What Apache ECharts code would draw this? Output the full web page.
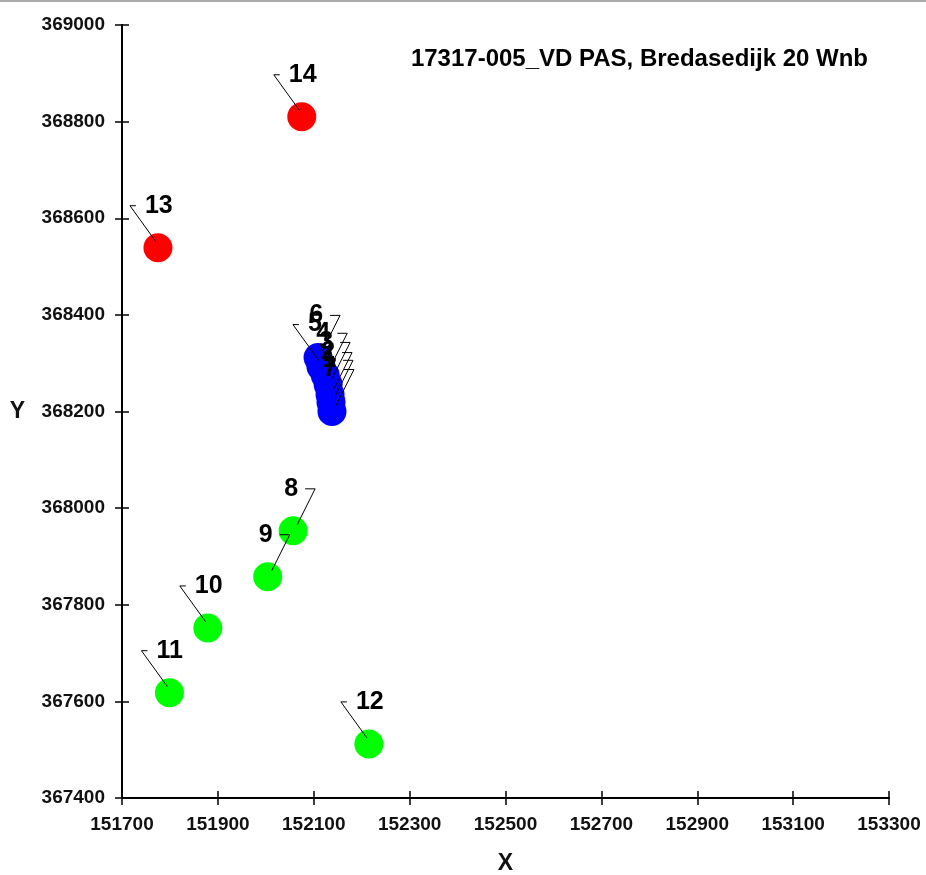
<!DOCTYPE html>
<html>
<head>
<meta charset="utf-8">
<script src="https://cdn.jsdelivr.net/npm/echarts@6/dist/echarts.min.js"></script>
<style>
  html, body { margin: 0; padding: 0; background: #fff; }
  #main { width: 926px; height: 875px; border-top: 2px solid #aaa; box-sizing: border-box; }
</style>
</head>
<body>
<div id="main"></div>
<script>
// punten (RD-coordinaten)
var names = ['1', '2', '3', '4', '5', '6', '7', '8', '9', '10', '11', '12', '13', '14']
var xs = [152136, 152134, 152130, 152124, 152115, 152109, 152138, 152057, 152004, 151879, 151799, 152215, 151775, 152075]
var ys = [368219, 368235, 368256, 368275, 368293, 368312, 368200, 367953, 367858, 367752, 367618, 367512, 368539, 368810]
var groups = ['B', 'B', 'B', 'B', 'B', 'B', 'B', 'G', 'G', 'G', 'G', 'G', 'R', 'R']

// as-instellingen
var xMin = 151700, xMax = 153300, xStep = 200
var yMin = 367400, yMax = 369000, yStep = 200

var title = '17317-005_VD PAS, Bredasedijk 20 Wnb'

// labels rechtsboven i.p.v. linksboven
var rightSide = ['1', '2', '3', '4', '6', '7', '8', '9']
var colors = { R: '#ff0000', G: '#00ff00', B: '#0000ff' }
var font = '"Liberation Sans", Arial, sans-serif'

function pts(g) {
  var out = []
  for (var i = 0; i < names.length; i++) {
    if (groups[i] === g) out.push([xs[i], ys[i], names[i]])
  }
  return out
}

var allPts = names.map(function (n, i) { return [xs[i], ys[i], n] })

function axisBase(min, max, step) {
  return {
    type: 'value', min: min, max: max, interval: step,
    splitLine: { show: false },
    axisLine: { show: true, onZero: false, lineStyle: { color: '#000', width: 2 } },
    axisTick: { show: true, length: 7, lineStyle: { color: '#000', width: 1.5 } },
    axisLabel: {
      color: '#111', fontFamily: font, fontWeight: 'bold', fontSize: 19, margin: 17,
      formatter: function (v) { return String(v) }
    }
  }
}

var xA = axisBase(xMin, xMax, xStep)
xA.name = 'X'; xA.nameLocation = 'middle'; xA.nameGap = 54
xA.nameTextStyle = { color: '#111', fontFamily: font, fontWeight: 'bold', fontSize: 23 }
var yA = axisBase(yMin, yMax, yStep)
yA.name = 'Y'; yA.nameLocation = 'middle'; yA.nameGap = 97; yA.nameRotate = 0
yA.nameTextStyle = { color: '#111', fontFamily: font, fontWeight: 'bold', fontSize: 23 }

// tweede as alleen voor de streepjes aan de binnenkant
function innerTicks(min, max, step, pos) {
  return {
    type: 'value', min: min, max: max, interval: step, position: pos,
    splitLine: { show: false },
    axisLine: { show: true, onZero: false, lineStyle: { color: '#000', width: 2 } },
    axisLabel: { show: true, color: 'rgba(0,0,0,0)', fontSize: 19, margin: 17 },
    axisTick: { show: true, inside: true, length: 7, lineStyle: { color: '#000', width: 1.5 } }
  }
}

var series = ['R', 'G', 'B'].map(function (g) {
  return {
    type: 'scatter', symbolSize: 29, data: pts(g),
    itemStyle: { color: colors[g], opacity: 1 }, z: 2
  }
})

series.push({
  type: 'custom', data: allPts, z: 5, silent: true,
  renderItem: function (params, api) {
    var c = api.coord([api.value(0), api.value(1)])
    var n = allPts[params.dataIndex][2]
    var right = rightSide.indexOf(n) >= 0
    var ax = right ? 22 : -28
    var dashEnd = right ? 12 : -22
    var tx = right ? 5 : -13
    return {
      type: 'group',
      children: [
        {
          type: 'polyline',
          shape: { points: [[c[0] + (right ? 4 : -2), c[1] - 6], [c[0] + ax, c[1] - 42], [c[0] + dashEnd, c[1] - 42]] },
          style: { stroke: '#000', lineWidth: 1, fill: null }
        },
        {
          type: 'text',
          style: {
            text: n, x: c[0] + tx, y: c[1] - 42,
            fill: '#000', font: 'bold 25px ' + font,
            align: right ? 'right' : 'left', verticalAlign: 'middle'
          }
        }
      ]
    }
  }
})

var option = {
  backgroundColor: '#fff',
  animation: false,
  title: {
    text: title, right: 53, top: 40,
    textStyle: { color: '#000', fontFamily: font, fontWeight: 'bold', fontSize: 24 }
  },
  grid: { left: 122, right: 37, top: 23, bottom: 77, outerBoundsMode: 'none' },
  xAxis: [xA, innerTicks(xMin, xMax, xStep, 'bottom')],
  yAxis: [yA, innerTicks(yMin, yMax, yStep, 'left')],
  series: series
}

var myChart = echarts.init(document.getElementById('main'))
option && myChart.setOption(option)
</script>
</body>
</html>
